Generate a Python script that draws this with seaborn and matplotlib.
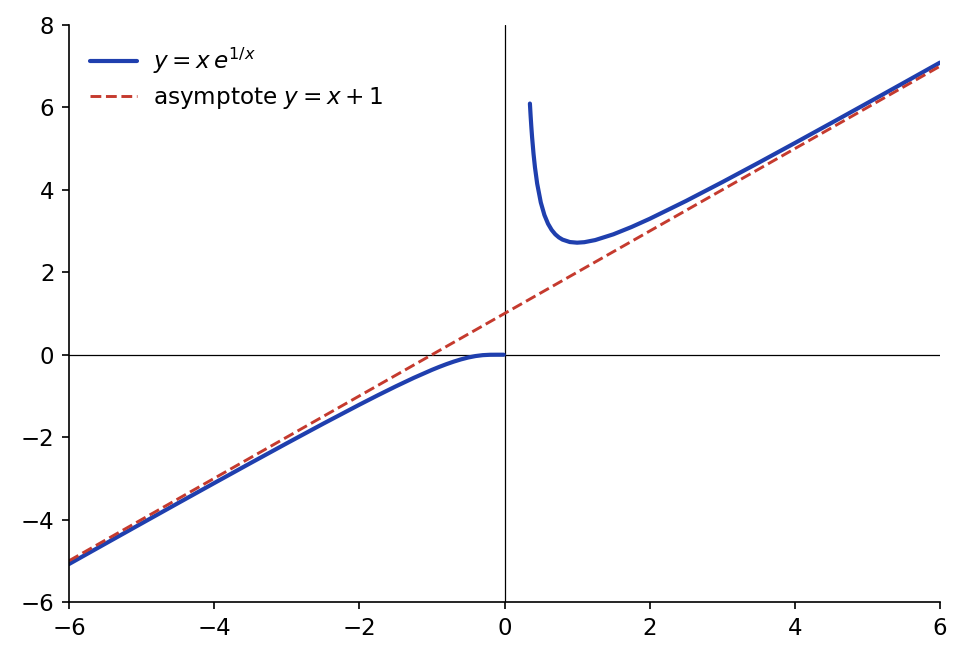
import matplotlib
matplotlib.use("Agg")
import matplotlib.pyplot as plt
import seaborn as sns
import pandas as pd

# Left branch of y = x e^{1/x} (x < 0)
x_left = [-6.0, -5.5, -5.0, -4.5, -4.0, -3.5, -3.0, -2.5, -2.0, -1.75, -1.5, -1.25,
          -1.0, -0.9, -0.8, -0.7, -0.6, -0.5, -0.4, -0.3, -0.2, -0.1, -0.01]
y_left = [-5.0789, -4.5856, -4.0937, -3.6033, -3.1152, -2.6302, -2.1496, -1.6758,
          -1.2131, -0.98826, -0.77013, -0.56166, -0.36788, -0.29627, -0.22920,
          -0.16776, -0.11333, -0.06767, -0.032834, -0.010702, -0.0013476, 0.0, 0.0]

# Right branch (x > 0)
x_right = [0.35, 0.36, 0.37, 0.38, 0.40, 0.42, 0.45, 0.50, 0.55, 0.60, 0.65, 0.70,
           0.75, 0.80, 0.90, 1.0, 1.1, 1.25, 1.5, 1.75, 2.0, 2.5, 3.0, 3.5, 4.0,
           4.5, 5.0, 5.5, 6.0]
y_right = [6.0941, 5.7907, 5.5212, 5.2797, 4.8730, 4.5425, 4.1523, 3.6945, 3.3884,
           3.1767, 3.0271, 2.9207, 2.8453, 2.7923, 2.7340, 2.71828, 2.7303, 2.7819,
           2.9216, 3.0989, 3.2974, 3.7296, 4.1868, 4.6575, 5.1361, 5.6198, 6.1070,
           6.5966, 7.0882]

# Asymptote y = x + 1
x_asym = [-6.0, 6.0]
y_asym = [-5.0, 7.0]

labels = [r"$y = x\,e^{1/x}$", r"asymptote $y = x + 1$"]
x_ticks = [-6, -4, -2, 0, 2, 4, 6]
y_ticks = [-6, -4, -2, 0, 2, 4, 6, 8]

sns.set_style("ticks")
plt.rcParams['font.family'] = ['DejaVu Sans']
plt.rcParams['text.color'] = 'black'
plt.rcParams['xtick.color'] = 'black'
plt.rcParams['ytick.color'] = 'black'
plt.rcParams['axes.edgecolor'] = 'black'

fig = plt.figure(figsize=(964 / 150, 659 / 150), dpi=150)
ax = fig.add_axes([69 / 964, 1 - 602 / 659, (940 - 69) / 964, (602 - 25) / 659])

blue = "#1f3fae"
red = "#c53a2e"

df_l = pd.DataFrame({"x": x_left, "y": y_left})
df_r = pd.DataFrame({"x": x_right, "y": y_right})
df_a = pd.DataFrame({"x": x_asym, "y": y_asym})

sns.lineplot(data=df_l, x="x", y="y", ax=ax, color=blue, lw=2.0, label=labels[0],
             sort=False, estimator=None)
sns.lineplot(data=df_r, x="x", y="y", ax=ax, color=blue, lw=2.0, sort=False,
             estimator=None)
sns.lineplot(data=df_a, x="x", y="y", ax=ax, color=red, lw=1.4, ls="--",
             label=labels[1], sort=False, estimator=None)

ax.axhline(0, color="black", lw=0.6, zorder=0)
ax.axvline(0, color="black", lw=0.6, zorder=0)

ax.set_xlim(-6, 6)
ax.set_ylim(-6, 8)
ax.set_xticks(x_ticks)
ax.set_yticks(y_ticks)
ax.set_xticklabels([f"{t}".replace("-", "\u2212") for t in x_ticks])
ax.set_yticklabels([f"{t}".replace("-", "\u2212") for t in y_ticks])
ax.tick_params(labelsize=11, length=3.5, width=0.8, color="black", labelcolor="black")
ax.set_xlabel("")
ax.set_ylabel("")
for s in ["top", "right"]:
    ax.spines[s].set_visible(False)
for s in ["left", "bottom"]:
    ax.spines[s].set_color("black")
    ax.spines[s].set_linewidth(0.8)

leg = ax.legend(loc="upper left", frameon=False, fontsize=11.1, handlelength=2.05,
                handletextpad=0.7, borderaxespad=0.5, labelspacing=0.38)
for t in leg.get_texts():
    t.set_color("black")

fig.savefig("out.png", dpi=150)
